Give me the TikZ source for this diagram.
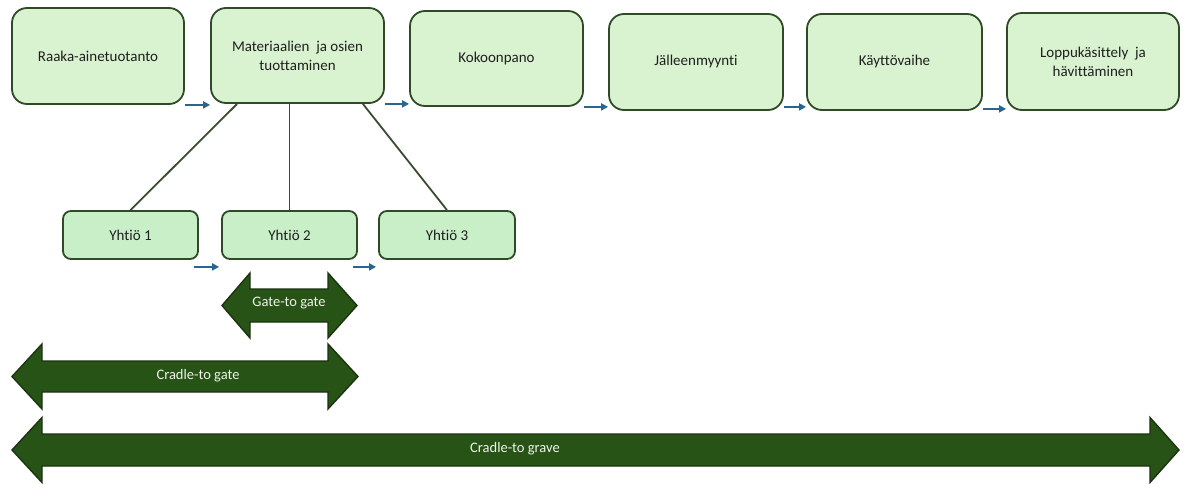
\documentclass[tikz,border=0pt]{standalone}
\usepackage{fontspec}
\setmainfont{Carlito}[Ligatures={NoCommon}]
\usetikzlibrary{calc,arrows.meta}

\definecolor{stagefill}{HTML}{D9F2D0}
\definecolor{firmfill}{HTML}{C8EFC8}
\definecolor{stageedge}{HTML}{2F4A27}
\definecolor{scopefill}{HTML}{275317}
\definecolor{scopeedge}{HTML}{1A3410}
\definecolor{scopetext}{HTML}{EEF4E8}
\definecolor{flowblue}{HTML}{2A6590}
\definecolor{treeline}{HTML}{3A4D33}

\tikzset{
  stage/.style={draw=stageedge, line width=1.8pt, fill=stagefill, rounded corners=15pt,
    align=center, font=\fontsize{15}{19}\selectfont, text=black!88, inner sep=2pt},
  firm/.style={draw=stageedge, line width=1.8pt, fill=firmfill, rounded corners=8pt,
    minimum width=135pt, minimum height=48pt, font=\fontsize{15}{18}\selectfont, text=black!88},
  flow/.style={draw=flowblue, line width=2pt, -{Triangle[length=7pt,width=7pt]}},
  tree/.style={draw=treeline, line width=1.8pt},
  scope/.style={fill=scopefill, draw=scopeedge, line width=1.4pt, line join=miter},
  scopelabel/.style={text=scopetext, font=\fontsize{14.5}{16}\selectfont}
}

\begin{document}
\begin{tikzpicture}[x=1pt,y=-1pt]
\useasboundingbox[fill=white] (0,0) rectangle (1187,484);

% life-cycle stages
\node[stage, minimum width=172pt, minimum height=96pt] (b1) at (98,56) {Raaka-ainetuotanto};
\node[stage, minimum width=173pt, minimum height=95pt] (b2) at (297.5,55.5) {Materiaalien\ \ ja osien\\tuottaminen};
\node[stage, minimum width=173pt, minimum height=95pt] (b3) at (496.5,58.5) {Kokoonpano};
\node[stage, minimum width=174pt, minimum height=96pt] (b4) at (696,62) {Jälleenmyynti};
\node[stage, minimum width=175pt, minimum height=96pt] (b5) at (894.5,62) {Käyttövaihe};
\node[stage, minimum width=172pt, minimum height=97pt] (b6) at (1093,61.5) {Loppukäsittely\ \ ja\\hävittäminen};

% companies in the production stage
\node[firm] (y1) at (130.5,235) {Yhtiö 1};
\node[firm] (y2) at (289.5,235) {Yhtiö 2};
\node[firm, minimum width=136pt] (y3) at (447,235) {Yhtiö 3};

% flow between stages
\draw[flow] (b1.south east) -- (b1.south east -| b2.west);
\draw[flow] (b2.south east) -- (b2.south east -| b3.west);
\draw[flow] (b3.south east) -- (b3.south east -| b4.west);
\draw[flow] ([yshift=4pt]b4.south east) -- ([yshift=4pt]b4.south east -| b5.west);
\draw[flow] ([yshift=2pt]b5.south east) -- ([yshift=2pt]b5.south east -| b6.west);

% flow between companies
\draw[flow] ([xshift=-5pt,yshift=-7pt]y1.south east) -- ([xshift=-2pt,yshift=-7pt]y2.south west);
\draw[flow] ([xshift=-5pt,yshift=-7pt]y2.south east) -- ([xshift=-2pt,yshift=-7pt]y3.south west);

% links from the production stage to the companies
\draw[tree] (b2.south west) ++(27,0) -- (y1.north);
\draw[tree] (y2.north) -- (y2.north |- b2.south);
\draw[tree] (b2.south east) ++(-22,0) -- (y3.north);

% system boundaries
\path[scope] (222,305.5) -- (250,273) -- (250,289) -- (328,289) -- (328,273) -- (357,305.5)
  -- (328,338) -- (328,322) -- (250,322) -- (250,338) -- cycle;
\node[scopelabel] (g2g) at (289,303.5) {Gate-to gate};

\path[scope] (12,376.5) -- (42,344) -- (42,361) -- (328,361) -- (328,344) -- (358,376.5)
  -- (328,409) -- (328,392) -- (42,392) -- (42,409) -- cycle;
\node[scopelabel] (c2g) at (198,376) {Cradle-to gate};

\path[scope] (12,450) -- (42,417.5) -- (42,434) -- (1150,434) -- (1150,417.5) -- (1179,450)
  -- (1150,482.5) -- (1150,466) -- (42,466) -- (42,482.5) -- cycle;
\node[scopelabel] (c2gr) at (515,449) {Cradle-to grave};
\end{tikzpicture}
\end{document}
